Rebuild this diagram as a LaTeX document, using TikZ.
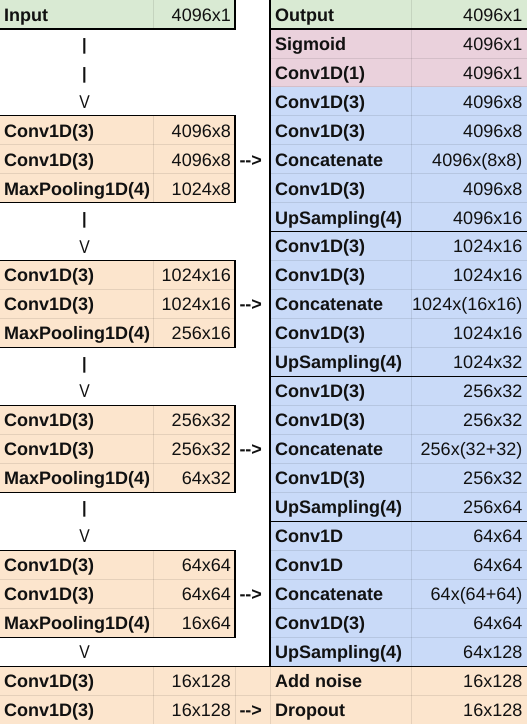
\documentclass[tikz,border=0pt]{standalone}
\usepackage{fontspec}
\setmainfont{Liberation Sans}
\definecolor{cgreen}{HTML}{D9EAD3}
\definecolor{cpeach}{HTML}{FCE5CD}
\definecolor{cpink}{HTML}{EAD1DC}
\definecolor{cblue}{HTML}{C9DAF8}
\definecolor{ctext}{HTML}{111111}
\def\rh{28.96}
\tikzset{
  lbl/.style={anchor=base west, inner sep=0pt, font=\fontsize{18}{20}\selectfont\bfseries, text=ctext},
  val/.style={anchor=base east, inner sep=0pt, font=\fontsize{18}{20}\selectfont, text=ctext},
  barmark/.style={anchor=center, inner sep=0pt, font=\fontsize{16.5}{18}\selectfont\bfseries, text=ctext},
  vmark/.style={anchor=base, inner sep=0pt, font=\fontsize{18.5}{20}\selectfont, text=ctext},
  skipmark/.style={anchor=base west, inner sep=0pt, font=\fontsize{18}{20}\selectfont\bfseries, text=ctext},
  gridln/.style={draw=black, draw opacity=0.09, line width=0.8pt},
  blackln/.style={draw=black, line width=1.1pt},
}
\newcommand\Lrow[4]{%
  \node[lbl] (#1l) at (4,{#2*\rh+21.3}) {#3};
  \node[val] (#1v) at (231,{#2*\rh+21.3}) {#4};}
\newcommand\Rrow[4]{%
  \node[lbl] (#1l) at (275,{#2*\rh+21.3}) {#3};
  \node[val] (#1v) at (522.5,{#2*\rh+21.3}) {#4};}
\newcommand\Bar[2]{\node[barmark] (#1) at (84.5,{#2*\rh+\rh/2+3}) {|};}
\newcommand\Vee[2]{\node[vmark] (#1) at (84.5,{#2*\rh+21.5}) {\scalebox{0.85}[1.0]{V}};}
\newcommand\Skip[2]{\node[skipmark] (#1) at (239.3,{#2*\rh+21.3}) {-{}->};}
\begin{document}
\begin{tikzpicture}[x=1pt,y=-1pt]
\useasboundingbox (0,0) rectangle (527,724);
% fills
\fill[cgreen] (0,0) rectangle (235,\rh);
\fill[cgreen] (270,0) rectangle (527,\rh);
\fill[cpink] (270,\rh) rectangle (527,{3*\rh});
\fill[cblue] (270,{3*\rh}) rectangle (527,{23*\rh});
\foreach \s in {4,9,14,19} {
  \fill[cpeach] (0,{\s*\rh}) rectangle (235,{(\s+3)*\rh});
}
\fill[cpeach] (0,{23*\rh}) rectangle (527,{25*\rh});
% light grid lines
\draw[gridln] (153,0) -- (153,\rh);
\draw[gridln] (411,0) -- (411,{23*\rh});
\foreach \s in {4,9,14,19} {
  \draw[gridln] (153,{\s*\rh}) -- (153,{(\s+3)*\rh});
  \draw[gridln] (0,{(\s+1)*\rh}) -- (235,{(\s+1)*\rh});
  \draw[gridln] (0,{(\s+2)*\rh}) -- (235,{(\s+2)*\rh});
}
\foreach \r in {2,3,4,5,6,7,9,10,11,12,14,15,16,17,19,20,21,22} {
  \draw[gridln] (270,{\r*\rh}) -- (527,{\r*\rh});
}
\foreach \x in {153,235,270,411} {
  \draw[gridln] (\x,{23*\rh}) -- (\x,{25*\rh});
}
\draw[gridln] (0,{24*\rh}) -- (527,{24*\rh});
% black borders
\draw[blackln] (0,\rh) -- (235,\rh) -- (235,0);
\foreach \s in {4,9,14,19} {
  \draw[blackln] (0,{\s*\rh}) -- (235,{\s*\rh}) -- (235,{(\s+3)*\rh}) -- (0,{(\s+3)*\rh});
}
\draw[blackln] (270,0) -- (270,{23*\rh});
\foreach \r in {1,8,13,18} {
  \draw[blackln] (270,{\r*\rh}) -- (527,{\r*\rh});
}
\draw[blackln] (0,{23*\rh}) -- (527,{23*\rh});
% left column
\Lrow{L0}{0}{Input}{4096x1}
\Bar{b1}{1}
\Bar{b2}{2}
\Vee{v3}{3}
\Lrow{L4}{4}{Conv1D(3)}{4096x8}
\Lrow{L5}{5}{Conv1D(3)}{4096x8}
\Lrow{L6}{6}{MaxPooling1D(4)}{1024x8}
\Bar{b7}{7}
\Vee{v8}{8}
\Lrow{L9}{9}{Conv1D(3)}{1024x16}
\Lrow{L10}{10}{Conv1D(3)}{1024x16}
\Lrow{L11}{11}{MaxPooling1D(4)}{256x16}
\Bar{b12}{12}
\Vee{v13}{13}
\Lrow{L14}{14}{Conv1D(3)}{256x32}
\Lrow{L15}{15}{Conv1D(3)}{256x32}
\Lrow{L16}{16}{MaxPooling1D(4)}{64x32}
\Bar{b17}{17}
\Vee{v18}{18}
\Lrow{L19}{19}{Conv1D(3)}{64x64}
\Lrow{L20}{20}{Conv1D(3)}{64x64}
\Lrow{L21}{21}{MaxPooling1D(4)}{16x64}
\Vee{v22}{22}
\Lrow{L23}{23}{Conv1D(3)}{16x128}
\Lrow{L24}{24}{Conv1D(3)}{16x128}
% skip arrows
\Skip{s5}{5}
\Skip{s10}{10}
\Skip{s15}{15}
\Skip{s20}{20}
\Skip{s24}{24}
% right column
\Rrow{R0}{0}{Output}{4096x1}
\Rrow{R1}{1}{Sigmoid}{4096x1}
\Rrow{R2}{2}{Conv1D(1)}{4096x1}
\Rrow{R3}{3}{Conv1D(3)}{4096x8}
\Rrow{R4}{4}{Conv1D(3)}{4096x8}
\Rrow{R5}{5}{Concatenate}{4096x(8x8)}
\Rrow{R6}{6}{Conv1D(3)}{4096x8}
\Rrow{R7}{7}{UpSampling(4)}{4096x16}
\Rrow{R8}{8}{Conv1D(3)}{1024x16}
\Rrow{R9}{9}{Conv1D(3)}{1024x16}
\Rrow{R10}{10}{Concatenate}{1024x(16x16)}
\Rrow{R11}{11}{Conv1D(3)}{1024x16}
\Rrow{R12}{12}{UpSampling(4)}{1024x32}
\Rrow{R13}{13}{Conv1D(3)}{256x32}
\Rrow{R14}{14}{Conv1D(3)}{256x32}
\Rrow{R15}{15}{Concatenate}{256x(32+32)}
\Rrow{R16}{16}{Conv1D(3)}{256x32}
\Rrow{R17}{17}{UpSampling(4)}{256x64}
\Rrow{R18}{18}{Conv1D}{64x64}
\Rrow{R19}{19}{Conv1D}{64x64}
\Rrow{R20}{20}{Concatenate}{64x(64+64)}
\Rrow{R21}{21}{Conv1D(3)}{64x64}
\Rrow{R22}{22}{UpSampling(4)}{64x128}
\Rrow{R23}{23}{Add noise}{16x128}
\Rrow{R24}{24}{Dropout}{16x128}
\end{tikzpicture}
\end{document}
